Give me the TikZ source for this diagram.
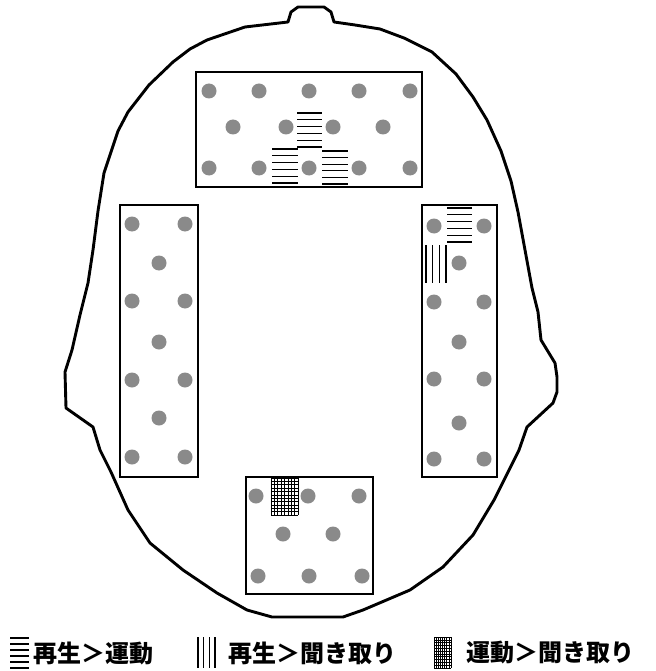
\documentclass[tikz,border=0pt]{standalone}
\usepackage{fontspec}
\newfontfamily\jpfont{Noto Sans CJK JP}
\usetikzlibrary{positioning}
\definecolor{dotgray}{HTML}{8A8A8A}
\tikzset{scalp/.style={draw=black,line width=2.9pt,line join=round},
 panel/.style={draw=black,line width=1.2pt},
 electrode/.style={fill=dotgray,draw=none},
 hatchline/.style={line width=1.1pt},
 gridline/.style={line width=0.6pt},
 legendtext/.style={anchor=west,font=\jpfont\bfseries\fontsize{24}{24}\selectfont,inner sep=0pt}}
% patches: horizontal lines, vertical lines, fine grid
\newcommand{\hpatch}[4]{\foreach \k in {0,...,5}{\draw[hatchline] (#1,{#2+\k*(#4-#2)/5}) -- (#3,{#2+\k*(#4-#2)/5});}}
\newcommand{\vpatch}[4]{\foreach \k in {0,...,3}{\draw[hatchline] ({#1+\k*(#3-#1)/3},#2) -- ({#1+\k*(#3-#1)/3},#4);}}
\newcommand{\gpatch}[4]{\foreach \k in {0,...,8}{\draw[gridline] ({#1+\k*(#3-#1)/8},#2) -- ({#1+\k*(#3-#1)/8},#4);}
 \foreach \k in {0,...,11}{\draw[gridline] (#1,{#2+\k*(#4-#2)/11}) -- (#3,{#2+\k*(#4-#2)/11});}}

\begin{document}
\begin{tikzpicture}[x=1pt,y=-1pt]
\useasboundingbox[fill=white] (0,0) rectangle (655,671);
% head outline
\draw[scalp] (334,22) -- (355,25) -- (380,29) -- (404,38) -- (432,52) -- (456,74) -- (473,97) -- (487,120)
 -- (501,151) -- (511,181) -- (518,212) -- (525,250) -- (532,288) -- (538,312) -- (541,340) -- (555,363)
 -- (557,377) -- (557,392) -- (553,403) -- (540,415) -- (527,427) -- (519,450) -- (508,472) -- (494,500)
 -- (473,535) -- (443,567) -- (410,590) -- (363,610) -- (343,617) -- (272,617) -- (247,610) -- (217,593)
 -- (183,570) -- (150,543) -- (128,510) -- (111,472) -- (100,450) -- (93,427) -- (66,408) -- (65,372)
 -- (72,350) -- (80,315) -- (88,283) -- (93,250) -- (98,211) -- (104,173) -- (118,131) -- (128,112)
 -- (149,85) -- (173,62) -- (190,49) -- (207,40) -- (245,27) -- (288,22) -- (291,12) -- (298,7)
 -- (324,7) -- (331,12) -- cycle;
% electrode panels
\draw[panel] (196,72) rectangle (422,187);
\draw[panel] (120,205) rectangle (198,477);
\draw[panel] (422,205) rectangle (497,477);
\draw[panel] (246,477) rectangle (373,594);
% electrodes
\foreach \x/\y in {209/91,259/91,309/91,359/91,410/91,233/127,286/127,333/127,383/127,
 209/168,259/168,309/168,359/168,410/168}
 \fill[electrode] (\x,\y) circle (7.5pt);
\foreach \x/\y in {132/224,185/224,159/263,132/301,185/301,159/342,132/380,185/380,159/418,132/457,185/457}
 \fill[electrode] (\x,\y) circle (7.5pt);
\foreach \x/\y in {434/226,484/226,459/263,434/302,484/302,459/342,434/379,484/379,459/423,434/459,484/459}
 \fill[electrode] (\x,\y) circle (7.5pt);
\foreach \x/\y in {256/496,308/496,359/496,283/534,333/534,258/576,309/576,362/576}
 \fill[electrode] (\x,\y) circle (7.5pt);
% contrast patches
\hpatch{297}{113}{322}{147}
\hpatch{272}{149}{298}{183}
\hpatch{322}{151}{348}{184}
\hpatch{447}{208}{472}{242}
\vpatch{426}{245}{446}{283}
\gpatch{271}{478}{298}{515}
% legend
\hpatch{10}{638}{29}{668}
\node[legendtext] (rm) at (33,653) {再生＞運動};
\vpatch{198}{637}{215}{668}
\node[legendtext] (rl) at (228,653) {再生＞聞き取り};
\gpatch{434}{637}{451}{668}
\node[legendtext] (ml) at (466,653) {運動＞聞き取り};
\end{tikzpicture}
\end{document}
